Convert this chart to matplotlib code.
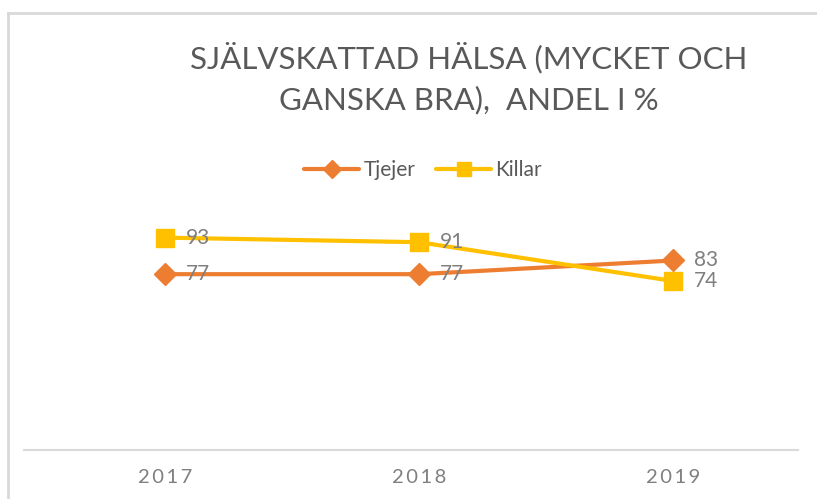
import matplotlib
matplotlib.use('Agg')
from matplotlib import pyplot as plt
from matplotlib.lines import Line2D

# data
years = ['2017', '2018', '2019']
tjejer = [77, 77, 83]
killar = [93, 91, 74]

orange = '#ED7D31'
gul = '#FFC000'
gra = '#595959'
ljusgra = '#7F7F7F'

W, H = 817, 499
fig = plt.figure(figsize=(W / 100, H / 100), dpi=100)
plt.rcParams['font.family'] = ['Lato', 'DejaVu Sans']

# plot area: x 24..798 px, y 176..450 px (0..120)
ax = fig.add_axes([24 / W, 1 - 450 / H, (798 - 24) / W, (450 - 176) / H])
x = range(len(years))

ax.plot(x, tjejer, color=orange, lw=3, marker='D', ms=11, label='Tjejer', solid_capstyle='round')
ax.plot(x, killar, color=gul, lw=3, marker='s', ms=12.5, label='Killar', solid_capstyle='round')

for serie in [tjejer, killar]:
    for xi, v in zip(x, serie):
        ax.annotate(str(v), (xi, v), xytext=(15, 0), textcoords='offset points',
                    va='center', ha='left', fontsize=15, color=ljusgra)

ax.set_xlim(-0.555, 2.49)
ax.set_ylim(0, 120)
ax.set_xticks(list(x))
ax.set_xticklabels(['\u2009'.join(y) for y in years], fontsize=14.5, color=ljusgra)
ax.tick_params(axis='x', length=0, pad=14)
ax.set_yticks([])
for s in ['top', 'right', 'left']:
    ax.spines[s].set_visible(False)
ax.spines['bottom'].set_color('#D9D9D9')
ax.spines['bottom'].set_linewidth(1.5)

# titel
fig.text(469 / W, 1 - 58 / H, 'SJÄLVSKATTAD HÄLSA (MYCKET OCH', ha='center', va='center',
         fontsize=22.5, color=gra)
fig.text(469 / W, 1 - 100 / H, 'GANSKA BRA),  ANDEL I %', ha='center', va='center',
         fontsize=22.5, color=gra)

# legend
fig.legend(loc='center', bbox_to_anchor=(423 / W, 1 - 170 / H), ncol=2, frameon=False,
           fontsize=15, labelcolor=gra, handlelength=2.64, columnspacing=1.0,
           handletextpad=0.2, markerscale=0.85)

# ram
fig.add_artist(Line2D([8 / W, 1], [1 - 13 / H, 1 - 13 / H], color='#D9D9D9', lw=2))
fig.add_artist(Line2D([8 / W, 8 / W], [0, 1 - 13 / H], color='#D9D9D9', lw=2))

plt.savefig('out.png', dpi=100)
plt.close()
